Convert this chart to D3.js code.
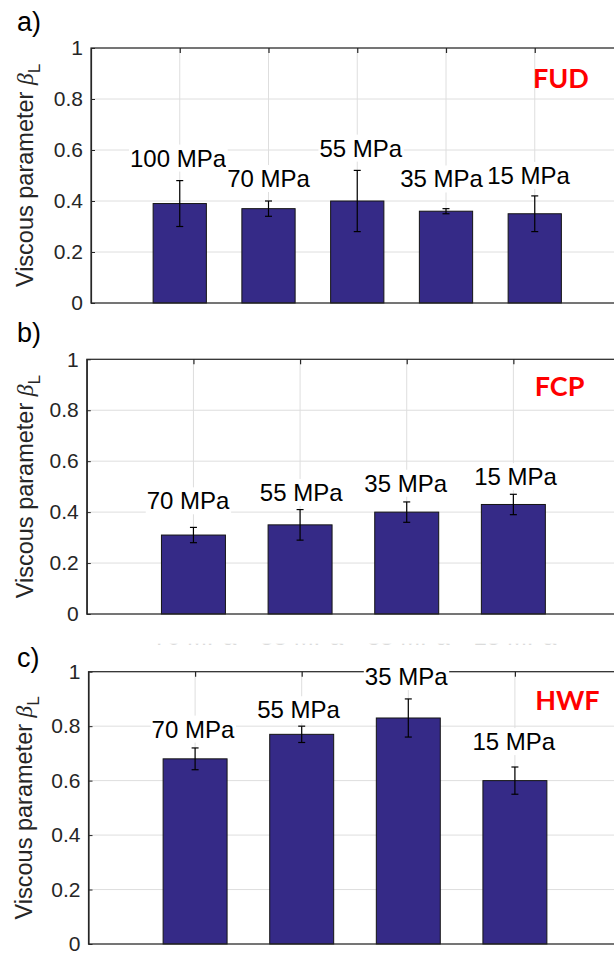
<!DOCTYPE html>
<html>
<head>
<meta charset="utf-8">
<script src="https://cdn.jsdelivr.net/npm/d3@7"></script>
<style>
  html, body { margin: 0; padding: 0; background: #fff; }
  svg { display: block; }
</style>
</head>
<body>
<div id="chart"></div>
<script>
// ---- data ----
var yTicks = [0, 0.2, 0.4, 0.6, 0.8, 1];
var yTickLabels = ["0", "0.2", "0.4", "0.6", "0.8", "1"];

// a) FUD
var categoriesA = ["100 MPa", "70 MPa", "55 MPa", "35 MPa", "15 MPa"];
var valuesA = [0.39, 0.37, 0.40, 0.36, 0.35];
var errLowA = [0.30, 0.34, 0.28, 0.35, 0.28];
var errHighA = [0.48, 0.40, 0.52, 0.37, 0.42];
var labelXA = [0.98, 2.0, 3.04, 3.95, 4.93];
var labelYA = [0.535, 0.455, 0.574, 0.453, 0.467];

// b) FCP
var categoriesB = ["70 MPa", "55 MPa", "35 MPa", "15 MPa"];
var valuesB = [0.31, 0.35, 0.40, 0.43];
var errLowB = [0.28, 0.29, 0.36, 0.39];
var errHighB = [0.34, 0.41, 0.44, 0.47];
var labelXB = [0.95, 2.01, 2.99, 4.02];
var labelYB = [0.411, 0.444, 0.480, 0.506];

// c) HWF
var categoriesC = ["70 MPa", "55 MPa", "35 MPa", "15 MPa"];
var valuesC = [0.68, 0.77, 0.83, 0.60];
var errLowC = [0.64, 0.74, 0.76, 0.55];
var errHighC = [0.72, 0.80, 0.90, 0.65];
var labelXC = [0.98, 1.97, 2.98, 3.99];
var labelYC = [0.758, 0.829, 0.951, 0.712];

// leftover label strip between b) and c)
var ghostLabels = ["70 MPa", "55 MPa", "35 MPa", "15 MPa"];

// ---- layout ----
var W = 614, H = 956;
var sans = "'Liberation Sans', Arial, Helvetica, sans-serif";
var axisColor = "#262626";
var gridColor = "#dedede";
var barColor = "#352a87";

var panels = [
  { letter: "a)", name: "FUD", categories: categoriesA, values: valuesA, lo: errLowA, hi: errHighA,
    lx: labelXA, ly: labelYA, nameX: 4.98, nameY: 0.842,
    left: 91, right: 623.5, top: 48, bottom: 303, letterY: 31, ylabelX: 33 },
  { letter: "b)", name: "FCP", categories: categoriesB, values: valuesB, lo: errLowB, hi: errHighB,
    lx: labelXB, ly: labelYB, nameX: 4.20, nameY: 0.856,
    left: 86.8, right: 620, top: 359.3, bottom: 614, letterY: 342, ylabelX: 33 },
  { letter: "c)", name: "HWF", categories: categoriesC, values: valuesC, lo: errLowC, hi: errHighC,
    lx: labelXC, ly: labelYC, nameX: 4.19, nameY: 0.859,
    left: 88.5, right: 621.5, top: 671.7, bottom: 944, letterY: 667, ylabelX: 32 }
];

var svg = d3.select("#chart")
  .append("svg")
  .attr("width", W)
  .attr("height", H)
  .attr("viewBox", "0 0 " + W + " " + H);

svg.append("rect")
  .attr("width", W)
  .attr("height", H)
  .attr("fill", "#fff");

function drawPanel(p) {
  var n = p.categories.length;
  var idx = d3.range(n);
  var x = d3.scaleLinear().domain([0, n + 1]).range([p.left, p.right]);
  var y = d3.scaleLinear().domain([0, 1]).range([p.bottom, p.top]);
  var g = svg.append("g");

  // grid lines
  g.append("g")
    .selectAll("line")
    .data(yTicks)
    .enter()
    .append("line")
    .attr("x1", p.left)
    .attr("x2", p.right)
    .attr("y1", function(d) { return y(d); })
    .attr("y2", function(d) { return y(d); })
    .attr("stroke", gridColor)
    .attr("stroke-width", 1);

  g.append("g")
    .selectAll("line")
    .data(idx)
    .enter()
    .append("line")
    .attr("x1", function(i) { return x(i + 1); })
    .attr("x2", function(i) { return x(i + 1); })
    .attr("y1", p.top)
    .attr("y2", p.bottom)
    .attr("stroke", gridColor)
    .attr("stroke-width", 1);

  // bars
  var bw = x(0.6) - x(0);
  g.append("g")
    .selectAll("rect")
    .data(idx)
    .enter()
    .append("rect")
    .attr("x", function(i) { return x(i + 1) - bw / 2; })
    .attr("y", function(i) { return y(p.values[i]); })
    .attr("width", bw)
    .attr("height", function(i) { return y(0) - y(p.values[i]); })
    .attr("fill", barColor)
    .attr("stroke", "#141414")
    .attr("stroke-width", 1);

  // error bars
  var eb = g.append("g")
    .selectAll("g")
    .data(idx)
    .enter()
    .append("g")
    .attr("stroke", "#000")
    .attr("stroke-width", 1.2);
  eb.append("line")
    .attr("x1", function(i) { return x(i + 1); })
    .attr("x2", function(i) { return x(i + 1); })
    .attr("y1", function(i) { return y(p.lo[i]); })
    .attr("y2", function(i) { return y(p.hi[i]); });
  eb.append("line")
    .attr("x1", function(i) { return x(i + 1) - 3.5; })
    .attr("x2", function(i) { return x(i + 1) + 3.5; })
    .attr("y1", function(i) { return y(p.hi[i]); })
    .attr("y2", function(i) { return y(p.hi[i]); });
  eb.append("line")
    .attr("x1", function(i) { return x(i + 1) - 3.5; })
    .attr("x2", function(i) { return x(i + 1) + 3.5; })
    .attr("y1", function(i) { return y(p.lo[i]); })
    .attr("y2", function(i) { return y(p.lo[i]); });

  // axes box
  g.append("rect")
    .attr("x", p.left)
    .attr("y", p.top)
    .attr("width", p.right - p.left)
    .attr("height", p.bottom - p.top)
    .attr("fill", "none")
    .attr("stroke", axisColor)
    .attr("stroke-width", 1.2);

  // left axis, ticks pointing inward
  var yAxis = g.append("g")
    .attr("transform", "translate(" + p.left + ",0)")
    .call(d3.axisLeft(y)
      .tickValues(yTicks)
      .tickFormat(function(d, i) { return yTickLabels[i]; })
      .tickSizeInner(-4)
      .tickSizeOuter(0)
      .tickPadding(8));
  yAxis.select(".domain").attr("stroke", axisColor).attr("stroke-width", 1.2);
  yAxis.selectAll(".tick line").attr("stroke", axisColor);
  yAxis.selectAll(".tick text")
    .attr("fill", axisColor)
    .style("font-family", sans)
    .style("font-size", "21px");

  // top tick marks at the categories
  var topAxis = g.append("g")
    .attr("transform", "translate(0," + p.top + ")")
    .call(d3.axisTop(x)
      .tickValues(idx.map(function(i) { return i + 1; }))
      .tickFormat("")
      .tickSizeInner(-5)
      .tickSizeOuter(0));
  topAxis.select(".domain").remove();
  topAxis.selectAll(".tick line").attr("stroke", axisColor).attr("stroke-width", 1.2);

  // pressure labels with white background
  var lab = g.append("g")
    .selectAll("g")
    .data(idx)
    .enter()
    .append("g");
  lab.append("text")
    .attr("x", function(i) { return x(p.lx[i]); })
    .attr("y", function(i) { return y(p.ly[i]); })
    .attr("text-anchor", "middle")
    .style("font-family", sans)
    .style("font-size", "24px")
    .attr("fill", "#000")
    .text(function(i) { return p.categories[i]; });
  lab.each(function() {
    var t = d3.select(this).select("text");
    var bb = t.node().getBBox();
    d3.select(this).insert("rect", "text")
      .attr("x", bb.x - 1)
      .attr("y", bb.y)
      .attr("width", bb.width + 2)
      .attr("height", bb.height)
      .attr("fill", "#fff");
  });

  // material name
  g.append("text")
    .attr("x", x(p.nameX))
    .attr("y", y(p.nameY))
    .style("font-family", "Lato, 'Open Sans', sans-serif")
    .style("font-weight", "bold")
    .style("font-size", "27px")
    .attr("fill", "#ff0000")
    .text(p.name);

  // panel letter
  svg.append("text")
    .attr("x", 17)
    .attr("y", p.letterY)
    .style("font-family", sans)
    .style("font-size", "27px")
    .attr("fill", "#000")
    .text(p.letter);

  // y label
  var yl = svg.append("text")
    .attr("transform", "translate(" + p.ylabelX + "," + ((p.top + p.bottom) / 2) + ")rotate(-90)")
    .attr("text-anchor", "middle")
    .style("font-family", sans)
    .style("font-size", "23.5px")
    .attr("fill", axisColor);
  yl.append("tspan").text("Viscous parameter ");
  yl.append("tspan")
    .style("font-family", "'Liberation Serif', 'DejaVu Serif', serif")
    .style("font-style", "italic")
    .style("font-weight", "300")
    .text("\u03B2");
  yl.append("tspan")
    .attr("dy", 7)
    .style("font-size", "17px")
    .text("L");

  return x;
}

var xScales = panels.map(drawPanel);

// faint strip of cut-off labels between b) and c)
var clip = svg.append("clipPath").attr("id", "ghostClip");
clip.append("rect")
  .attr("x", 0)
  .attr("y", 643.8)
  .attr("width", W)
  .attr("height", 1);
svg.append("g")
  .attr("clip-path", "url(#ghostClip)")
  .selectAll("text")
  .data(ghostLabels)
  .enter()
  .append("text")
  .attr("x", function(d, i) { return xScales[2](i + 1); })
  .attr("y", 645)
  .attr("text-anchor", "middle")
  .style("font-family", sans)
  .style("font-size", "24px")
  .attr("fill", "#cfcfcf")
  .text(function(d) { return d; });
</script>
</body>
</html>
